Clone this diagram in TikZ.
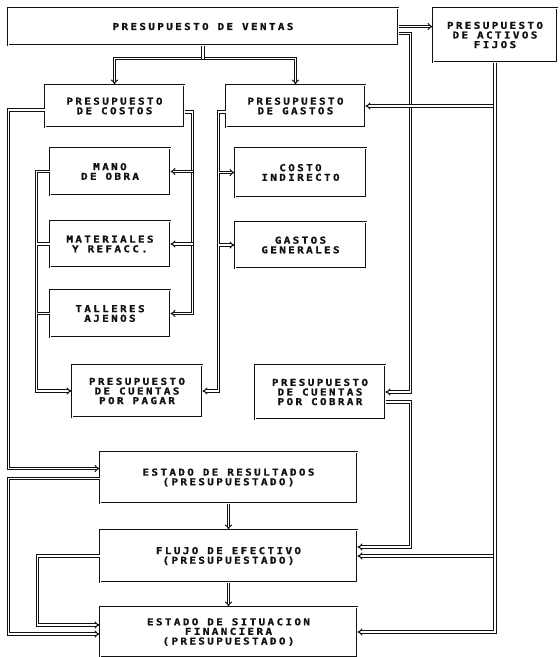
\documentclass[tikz,border=0pt]{standalone}
\usepackage{fontspec}
\usepackage{tikz}
\usetikzlibrary{arrows.meta, positioning}
\newfontfamily\dotfont[UprightFont={* Bold},FakeStretch=1.15,LetterSpace=25,FakeBold=1.2]{DejaVu Sans Mono}
\definecolor{inkc}{HTML}{111111}
\tikzset{
  blk/.style={rectangle, draw=inkc, double, double distance=0.8pt, line width=1pt, align=center, inner sep=2pt,
    font=\dotfont\fontsize{9.5pt}{9.6pt}\selectfont, text=inkc},
  bus/.style={draw=inkc, double, double distance=1.3pt, line width=1pt},
  conn/.style={bus, -{Implies[scale=1.8]}},
}
\begin{document}
\begin{tikzpicture}[x=1pt, y=-1pt]
  \useasboundingbox (0,0) rectangle (560,657);
  \node[blk, minimum width=390pt, minimum height=37pt] (ventas) at (203,26.5) {PRESUPUESTO DE VENTAS};
  \node[blk, minimum width=124pt, minimum height=54pt] (activos) at (495,35) {PRESUPUESTO\\DE ACTIVOS\\FIJOS};
  \node[blk, minimum width=139pt, minimum height=42pt] (costos) at (114.5,106) {PRESUPUESTO\\DE COSTOS};
  \node[blk, minimum width=139pt, minimum height=42pt] (gastos) at (295.5,106) {PRESUPUESTO\\DE GASTOS};
  \node[blk, minimum width=120pt, minimum height=47pt] (mano) at (110,171.5) {MANO\\DE OBRA};
  \node[blk, minimum width=120pt, minimum height=46pt, below=25pt of mano] (materiales) {MATERIALES\\Y REFACC.};
  \node[blk, minimum width=120pt, minimum height=47pt, below=22pt of materiales] (talleres) {TALLERES\\AJENOS};
  \node[blk, minimum width=131pt, minimum height=49pt] (indirecto) at (300.5,172.5) {COSTO\\INDIRECTO};
  \node[blk, minimum width=131pt, minimum height=46pt, below=24pt of indirecto] (generales) {GASTOS\\GENERALES};
  \node[blk, minimum width=130pt, minimum height=52pt] (pagar) at (137,391) {PRESUPUESTO\\DE CUENTAS\\POR PAGAR};
  \node[blk, minimum width=130pt, minimum height=54pt] (cobrar) at (320,392) {PRESUPUESTO\\DE CUENTAS\\POR COBRAR};
  \node[blk, minimum width=257pt, minimum height=51pt] (resultados) at (228.5,477.5) {ESTADO DE RESULTADOS\\(PRESUPUESTADO)};
  \node[blk, minimum width=257pt, minimum height=52pt, below=26pt of resultados] (flujo) {FLUJO DE EFECTIVO\\(PRESUPUESTADO)};
  \node[blk, minimum width=257pt, minimum height=50pt, below=24pt of flujo] (situacion) {ESTADO DE SITUACION\\FINANCIERA\\(PRESUPUESTADO)};
  \coordinate (fork) at ([yshift=-13pt]ventas.south);
  \coordinate (cb) at ([xshift=22pt]talleres.east);
  \coordinate (gb) at ([xshift=16pt]pagar.east);
  \coordinate (lb) at ([xshift=-35pt]pagar.west);
  \draw[conn] (fork) -| (costos.north);
  \draw[conn] (fork) -| (gastos.north);
  \draw[bus] (ventas.south) -- (fork);
  \draw[conn] (ventas.east) -- (ventas.east -| activos.west);
  \draw[conn] ([yshift=-7pt]ventas.east) -| ([xshift=25pt]cobrar.east) -- (cobrar.east);
  \draw[conn] ([yshift=-10pt]cobrar.east) -| ([xshift=53pt,yshift=9pt]flujo.east) -- ([yshift=9pt]flujo.east);
  \draw[conn] (activos.south) |- (gastos.east);
  \draw[conn] (activos.south) |- (flujo.east);
  \draw[conn] (activos.south) |- (situacion.east);
  \draw[conn] ([yshift=-6pt]costos.east) -| (cb) -- (talleres.east);
  \draw[conn] (cb |- mano.east) -- (mano.east);
  \draw[conn] (cb |- materiales.east) -- (materiales.east);
  \draw[conn] ([yshift=-6pt]gastos.west) -| (gb) -- (pagar.east);
  \draw[conn] (gb |- indirecto.west) -- (indirecto.west);
  \draw[conn] (gb |- generales.west) -- (generales.west);
  \draw[conn] (mano.west) -| (lb) -- (pagar.west);
  \draw[bus] (materiales.west) -- (materiales.west -| lb);
  \draw[bus] (talleres.west) -- (talleres.west -| lb);
  \draw[conn] ([yshift=-4pt]costos.west) -| ([xshift=-91pt,yshift=9pt]resultados.west) -- ([yshift=9pt]resultados.west);
  \draw[conn] ([yshift=-1pt]resultados.west) -| ([xshift=-91pt,yshift=-2pt]situacion.west) -- ([yshift=-2pt]situacion.west);
  \draw[conn] (flujo.west) -| ([xshift=-62pt,yshift=7pt]situacion.west) -- ([yshift=7pt]situacion.west);
  \draw[conn] (resultados.south) -- (flujo.north);
  \draw[conn] (flujo.south) -- (situacion.north);
\end{tikzpicture}
\end{document}
